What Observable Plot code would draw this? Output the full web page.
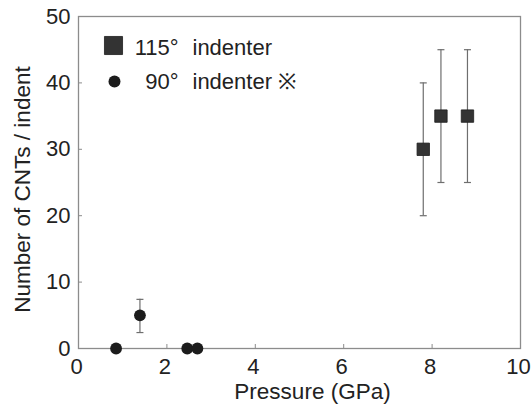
<!DOCTYPE html>
<html>
<head>
<meta charset="utf-8">
<script src="https://cdn.jsdelivr.net/npm/d3@7"></script>
<script src="https://cdn.jsdelivr.net/npm/@observablehq/plot@0.6"></script>
<style>
  html, body { margin: 0; padding: 0; background: #fff; }
</style>
</head>
<body>
<div id="chart"></div>
<script>
// ---- data ----
const seriesNames = ["115°", "90°"];
const seriesSuffix = ["indenter", "indenter ※"];

// 115° indenter (squares)
const sqX  = [7.8, 8.2, 8.8];
const sqY  = [30, 35, 35];
const sqLo = [20, 25, 25];
const sqHi = [40, 45, 45];

// 90° indenter (circles)
const ciX  = [0.85, 1.39, 2.46, 2.69];
const ciY  = [0, 5, 0, 0];
const ciLo = [null, 2.4, null, null];
const ciHi = [null, 7.4, null, null];

const xTicks = [0, 2, 4, 6, 8, 10];
const yTicks = [0, 10, 20, 30, 40, 50];
const xTitle = "Pressure (GPa)";
const yTitle = "Number of CNTs / indent";

// ---- build tables ----
const squares = sqX.map((x, i) => ({x, y: sqY[i], lo: sqLo[i], hi: sqHi[i]}));
const circles = ciX.map((x, i) => ({x, y: ciY[i], lo: ciLo[i], hi: ciHi[i]}));
const errs = [...squares, ...circles].filter(d => d.lo != null);

// horizontal cap symbol (half width = r)
const cap = {
  draw(ctx, size) {
    const w = Math.sqrt(size / Math.PI);
    ctx.moveTo(-w, 0);
    ctx.lineTo(w, 0);
  }
};

const ink = "#222";
const frameGray = "#8c8c8c";
const errGray = "#6e6e6e";

const chart = Plot.plot({
  width: 531,
  height: 406,
  marginLeft: 78,
  marginRight: 11,
  marginTop: 16,
  marginBottom: 58,
  style: {fontFamily: "'Liberation Sans', Arial, sans-serif", fontSize: "22px", color: ink, background: "#fff"},
  x: {domain: [0, 10]},
  y: {domain: [0, 50]},
  marks: [
    Plot.frame({stroke: frameGray, strokeWidth: 1.3}),
    // inward tick marks
    Plot.axisX({ticks: xTicks, tickSize: -4, tickPadding: 0, stroke: frameGray, label: null, tickFormat: () => ""}),
    // x tick labels
    Plot.axisX({ticks: xTicks, tickSize: 0, tickPadding: 10, dx: -2, label: null, tickFormat: d => d, fill: ink}),
    Plot.axisY({ticks: yTicks, tickSize: -4, tickPadding: 12, stroke: frameGray, label: null, tickFormat: d => d, fill: ink}),
    // axis titles
    Plot.text([xTitle], {frameAnchor: "bottom", text: d => d, dx: 13, dy: 50, lineAnchor: "bottom", fill: ink, fontSize: 22.5}),
    Plot.text([yTitle], {frameAnchor: "left", text: d => d, rotate: -90, dx: -56, dy: 7, lineAnchor: "middle", textAnchor: "middle", fill: ink, fontSize: 22.5}),
    // error bars
    Plot.ruleX(errs, {x: "x", y1: "lo", y2: "hi", stroke: errGray, strokeWidth: 1.2}),
    Plot.dot(errs, {x: "x", y: "lo", symbol: cap, r: 3.5, stroke: errGray, strokeWidth: 1.2, fill: "none"}),
    Plot.dot(errs, {x: "x", y: "hi", symbol: cap, r: 3.5, stroke: errGray, strokeWidth: 1.2, fill: "none"}),
    // data
    Plot.dot(squares, {x: "x", y: "y", symbol: "square", r: 7, fill: "#333", stroke: "#1e1e1e", strokeWidth: 0.8}),
    Plot.dot(circles, {x: "x", y: "y", symbol: "circle", r: 5.9, fill: "#1c1c1c"}),
    // legend
    Plot.dot([seriesNames[0]], {frameAnchor: "top-left", dx: 35, dy: 29, symbol: "square", r: 10.2, fill: "#333", stroke: "#1e1e1e", strokeWidth: 0.8}),
    Plot.dot([seriesNames[1]], {frameAnchor: "top-left", dx: 36, dy: 65, symbol: "circle", r: 6, fill: "#1c1c1c"}),
    Plot.text([seriesNames[0]], {frameAnchor: "top-left", text: d => d, dx: 100, dy: 38, lineAnchor: "bottom", textAnchor: "end", fill: ink}),
    Plot.text([seriesNames[1]], {frameAnchor: "top-left", text: d => d, dx: 100, dy: 72, lineAnchor: "bottom", textAnchor: "end", fill: ink}),
    Plot.text([seriesSuffix[0]], {frameAnchor: "top-left", text: d => d, dx: 114, dy: 38, lineAnchor: "bottom", textAnchor: "start", fill: ink}),
    Plot.text([seriesSuffix[1]], {frameAnchor: "top-left", text: d => d, dx: 114, dy: 72, lineAnchor: "bottom", textAnchor: "start", fill: ink})
  ]
});
document.getElementById("chart").appendChild(chart);
</script>
</body>
</html>
